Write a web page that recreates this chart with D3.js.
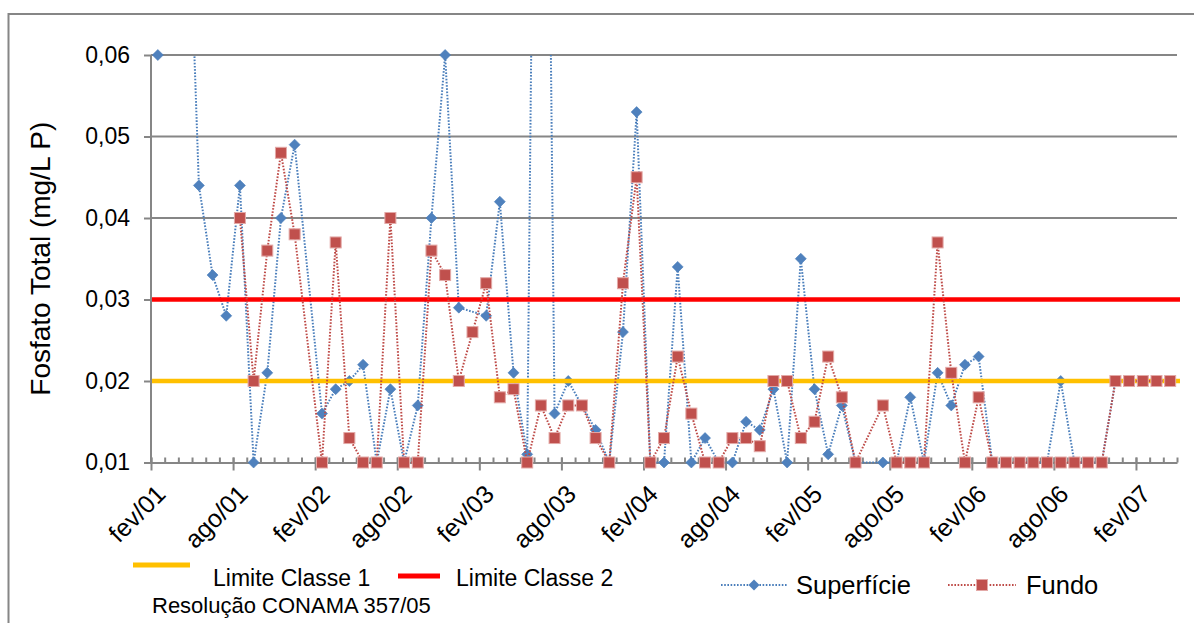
<!DOCTYPE html>
<html>
<head>
<meta charset="utf-8">
<script src="https://cdn.jsdelivr.net/npm/d3@7"></script>
<style>
  html, body { margin: 0; padding: 0; background: #fff; }
  svg { display: block; font-family: "Liberation Sans", Arial, sans-serif; }
</style>
</head>
<body>
<svg id="chart" width="1194" height="623"></svg>
<script>
// ---- data ----
const months = d3.timeMonth.range(new Date(2001, 1, 1), new Date(2007, 4, 1)); // fev/01 .. abr/07
const tickLabels = ["fev/01","ago/01","fev/02","ago/02","fev/03","ago/03","fev/04","ago/04","fev/05","ago/05","fev/06","ago/06","fev/07"];
const yTicks = [0.01, 0.02, 0.03, 0.04, 0.05, 0.06];
const superficie = [
  0.060, null, 0.093, 0.044, 0.033, 0.028, 0.044, 0.010, 0.021, 0.040,
  0.049, null, 0.016, 0.019, 0.020, 0.022, 0.010, 0.019, 0.010, 0.017,
  0.040, 0.060, 0.029, null, 0.028, 0.042, 0.021, 0.011, 0.180, 0.016,
  0.020, null, 0.014, 0.010, 0.026, 0.053, 0.010, 0.010, 0.034, 0.010,
  0.013, 0.010, 0.010, 0.015, 0.014, 0.019, 0.010, 0.035, 0.019, 0.011,
  0.017, 0.010, null, 0.010, 0.010, 0.018, 0.010, 0.021, 0.017, 0.022,
  0.023, 0.010, 0.010, 0.010, 0.010, 0.010, 0.020, 0.010, 0.010, 0.010,
  0.020, 0.020, 0.020, 0.020, 0.020
];
const fundo = [
  null, null, null, null, null, null, 0.040, 0.020, 0.036, 0.048,
  0.038, null, 0.010, 0.037, 0.013, 0.010, 0.010, 0.040, 0.010, 0.010,
  0.036, 0.033, 0.020, 0.026, 0.032, 0.018, 0.019, 0.010, 0.017, 0.013,
  0.017, 0.017, 0.013, 0.010, 0.032, 0.045, 0.010, 0.013, 0.023, 0.016,
  0.010, 0.010, 0.013, 0.013, 0.012, 0.020, 0.020, 0.013, 0.015, 0.023,
  0.018, 0.010, null, 0.017, 0.010, 0.010, 0.010, 0.037, 0.021, 0.010,
  0.018, 0.010, 0.010, 0.010, 0.010, 0.010, 0.010, 0.010, 0.010, 0.010,
  0.020, 0.020, 0.020, 0.020, 0.020
];
const limiteClasse1 = 0.02;
const limiteClasse2 = 0.03;
const legendLimits = ["Limite Classe 1", "Limite Classe 2"];
const legendNote = "Resolução CONAMA 357/05";
const legendSeries = ["Superfície", "Fundo"];
const yTitle = "Fosfato Total (mg/L P)";

// ---- layout ----
const svg = d3.select("#chart");
const L = 151, R = 1177, T = 55, B = 462.5;
const gray = "#868686";
const blueLine = "#4A7EBB", blueMark = "#4F81BD";
const redLine = "#BE4B48", redMark = "#C0504D";

svg.append("rect").attr("width", 1194).attr("height", 623).attr("fill", "#fff");
svg.append("rect").attr("x", 8.5).attr("y", 14).attr("width", 1300).attr("height", 700)
  .attr("fill", "none").attr("stroke", gray).attr("stroke-width", 2);

const x = d3.scaleLinear().domain([0, months.length]).range([L, R]);
const y = d3.scaleLinear().domain([0.01, 0.06]).range([B, T]);
const cx = i => x(i + 0.5);

svg.append("defs").append("clipPath").attr("id", "plotclip")
  .append("rect").attr("x", L).attr("y", T).attr("width", R - L + 6).attr("height", B - T + 3);

// gridlines
svg.append("g").selectAll("line").data(yTicks.slice(1)).join("line")
  .attr("x1", L).attr("x2", R).attr("y1", d => y(d)).attr("y2", d => y(d))
  .attr("stroke", gray).attr("stroke-width", 2);

// y axis
const yAxis = svg.append("g").attr("transform", `translate(${L},0)`)
  .call(d3.axisLeft(y).tickValues(yTicks).tickSize(7).tickPadding(14)
    .tickFormat(d => d3.format(".2f")(d).replace(".", ",")));
yAxis.select(".domain").attr("stroke", gray).attr("stroke-width", 2).attr("d", `M0,${T}V${B}`);
yAxis.selectAll(".tick line").attr("stroke", gray).attr("stroke-width", 2);
yAxis.selectAll(".tick text").attr("font-size", 23).attr("fill", "#000")
  .attr("font-family", "Liberation Sans, Arial, sans-serif");

// x axis: minor ticks (inside) every month, major every 6 months
const xAxisMinor = svg.append("g").attr("transform", `translate(0,${B})`)
  .call(d3.axisBottom(x).tickValues(d3.range(0, months.length + 1)).tickSizeInner(-5).tickSizeOuter(0).tickFormat(""));
xAxisMinor.select(".domain").attr("stroke", gray).attr("stroke-width", 2);
xAxisMinor.selectAll(".tick line").attr("stroke", gray).attr("stroke-width", 2);

const majorIdx = d3.range(0, months.length + 1, 6);
const xAxisMajor = svg.append("g").attr("transform", `translate(0,${B})`)
  .call(d3.axisBottom(x).tickValues(majorIdx).tickSize(8).tickFormat(""));
xAxisMajor.select(".domain").remove();
xAxisMajor.selectAll(".tick line").attr("stroke", gray).attr("stroke-width", 2).attr("y1", -5);

// x labels rotated
svg.append("g").selectAll("text").data(majorIdx.filter((d, i) => i < tickLabels.length)).join("text")
  .attr("transform", d => `translate(${x(d) + 10},${B + 27}) rotate(-45)`)
  .attr("text-anchor", "end").attr("dy", "0.35em")
  .attr("font-size", 25).attr("fill", "#000")
  .text((d, i) => tickLabels[i]);

// y title
svg.append("text").attr("transform", `translate(50,${(T + B) / 2}) rotate(-90)`)
  .attr("text-anchor", "middle").attr("font-size", 28).attr("fill", "#000").text(yTitle);

// series helpers
const lineGen = d3.line().defined(d => d.v != null).x(d => cx(d.i)).y(d => y(d.v));
function seriesPts(arr) { return arr.map((v, i) => ({ i, v })).filter(d => d.v != null); }
const diamond = s => `M0,${-s}L${s},0L0,${s}L${-s},0Z`;

// Superfície
const supPts = seriesPts(superficie);
svg.append("path").datum(supPts).attr("clip-path", "url(#plotclip)")
  .attr("d", lineGen).attr("fill", "none").attr("stroke", blueLine)
  .attr("stroke-width", 2).attr("stroke-dasharray", "1.6,1.6");
svg.append("g").selectAll("path").data(supPts.filter(d => d.v <= 0.0601)).join("path")
  .attr("transform", d => `translate(${cx(d.i)},${y(d.v)})`)
  .attr("d", diamond(5.5)).attr("fill", blueMark).attr("stroke", blueLine).attr("stroke-width", 0.6);

// limit lines
[[limiteClasse1, "#FFC000"], [limiteClasse2, "#FF0000"]].forEach(([v, c]) => {
  svg.append("line").attr("x1", L + 1).attr("x2", R + 3).attr("y1", y(v)).attr("y2", y(v))
    .attr("stroke", c).attr("stroke-width", 4.5);
});

// Fundo
const funPts = seriesPts(fundo);
svg.append("path").datum(funPts).attr("clip-path", "url(#plotclip)")
  .attr("d", lineGen).attr("fill", "none").attr("stroke", redLine)
  .attr("stroke-width", 2).attr("stroke-dasharray", "1.6,1.6");
svg.append("g").selectAll("rect").data(funPts).join("rect")
  .attr("x", d => cx(d.i) - 5.5).attr("y", d => y(d.v) - 5.5)
  .attr("width", 11).attr("height", 11)
  .attr("fill", redMark).attr("stroke", "#E3A9A7").attr("stroke-width", 1);

// ---- legend ----
const lg = svg.append("g").attr("font-size", 23).attr("fill", "#000");
lg.append("line").attr("x1", 133).attr("x2", 190).attr("y1", 565).attr("y2", 565)
  .attr("stroke", "#FFC000").attr("stroke-width", 5);
lg.append("text").attr("x", 213).attr("y", 586).text(legendLimits[0]);
lg.append("line").attr("x1", 398).attr("x2", 440).attr("y1", 576).attr("y2", 576)
  .attr("stroke", "#FF0000").attr("stroke-width", 5);
lg.append("text").attr("x", 456).attr("y", 586).text(legendLimits[1]);
lg.append("text").attr("x", 152).attr("y", 613).attr("font-size", 22).text(legendNote);

// series legend
const ly = 585;
lg.append("line").attr("x1", 721).attr("x2", 788).attr("y1", ly).attr("y2", ly)
  .attr("stroke", blueLine).attr("stroke-width", 2).attr("stroke-dasharray", "1.6,1.6");
lg.append("path").attr("transform", `translate(754,${ly})`).attr("d", diamond(5.5)).attr("fill", blueMark);
lg.append("text").attr("x", 796).attr("y", ly + 9).attr("font-size", 25.5).text(legendSeries[0]);
lg.append("line").attr("x1", 948).attr("x2", 1016).attr("y1", ly).attr("y2", ly)
  .attr("stroke", redLine).attr("stroke-width", 2).attr("stroke-dasharray", "1.6,1.6");
lg.append("rect").attr("x", 982 - 5.5).attr("y", ly - 5.5).attr("width", 11).attr("height", 11)
  .attr("fill", redMark).attr("stroke", "#E3A9A7").attr("stroke-width", 1);
lg.append("text").attr("x", 1026).attr("y", ly + 9).attr("font-size", 25.5).text(legendSeries[1]);
</script>
</body>
</html>
